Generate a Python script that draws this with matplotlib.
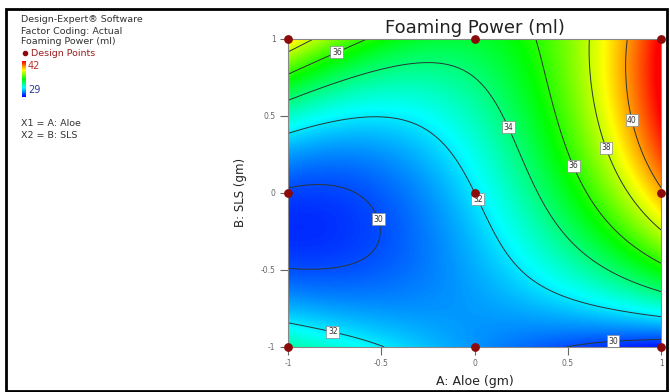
import numpy as np
import matplotlib
matplotlib.use("Agg")
import matplotlib.pyplot as plt
from matplotlib.colors import LinearSegmentedColormap
from matplotlib.patches import Rectangle

# design levels (coded) and measured foaming power at each design point
aloe_levels = [-1.0, 0.0, 1.0]
sls_levels = [-1.0, 0.0, 1.0]
# rows follow sls_levels, columns follow aloe_levels
foaming = [
    [33.4, 30.9, 29.3],
    [29.9, 32.0, 39.8],
    [39.3, 34.9, 42.2],
]
contour_levels = [30, 32, 34, 36, 38, 40]
x_ticks = [-1, -0.5, 0, 0.5, 1]
y_ticks = [-1, -0.5, 0, 0.5, 1]
z_low, z_high = 29, 42


def lagrange(t, nodes, k):
    out = np.ones_like(t)
    for j, n in enumerate(nodes):
        if j != k:
            out *= (t - n) / (nodes[k] - n)
    return out


# full 3x3 factorial model (A, B, AB, A2, B2, A2B, AB2, A2B2)
xs = np.linspace(-1, 1, 301)
ys = np.linspace(-1, 1, 301)
X, Y = np.meshgrid(xs, ys)
Z = np.zeros_like(X)
vals = np.array(foaming)
for i in range(3):
    for j in range(3):
        Z += vals[i, j] * lagrange(Y, sls_levels, i) * lagrange(X, aloe_levels, j)

cmap = LinearSegmentedColormap.from_list(
    "de", [(0.0, "#0000ff"), (0.25, "#00ffff"), (0.5, "#00ff00"),
           (0.75, "#ffff00"), (1.0, "#ff0000")])

fig = plt.figure(figsize=(6.7, 3.92), dpi=100)
ax = fig.add_axes([0.430, 0.115, 0.557, 0.786])

ax.imshow(Z, extent=[-1, 1, -1, 1], origin="lower", cmap=cmap,
          vmin=z_low, vmax=z_high, aspect="auto", interpolation="bilinear")
cs = ax.contour(X, Y, Z, levels=contour_levels, colors="#2a3535",
                linewidths=0.7)
lab_pos = [(-0.72, 0.86), (0.17, 0.42), (0.52, 0.17), (0.70, 0.29),
           (0.84, 0.47), (0.0, -0.05), (-0.54, -0.18), (-0.76, -0.90),
           (0.74, -0.935)]
txts = ax.clabel(cs, fmt="%d", fontsize=5.5, inline=False, manual=lab_pos)
for t in txts:
    t.set_rotation(0)
    t.set_color("#333333")
    t.set_bbox(dict(boxstyle="square,pad=0.2", fc="white", ec="#888888",
                    lw=0.5))

# design points
px, py = np.meshgrid(aloe_levels, sls_levels)
ax.scatter(px.ravel(), py.ravel(), s=28, color="#8b0a0a", zorder=5,
           clip_on=False)

ax.set_xlim(-1, 1)
ax.set_ylim(-1, 1)
ax.set_xticks(x_ticks)
ax.set_xticklabels(["-1", "-0.5", "0", "0.5", "1"])
ax.set_yticks(y_ticks)
ax.set_yticklabels(["-1", "-0.5", "0", "0.5", "1"])
ax.tick_params(direction="out", length=6, width=0.8, colors="#666666",
               labelsize=5.5, pad=3)
for s in ax.spines.values():
    s.set_color("#888888")
    s.set_linewidth(0.8)

ax.set_xlabel("A: Aloe (gm)", fontsize=9, color="#222222", labelpad=5)
ax.set_ylabel("B: SLS (gm)", fontsize=8.5, color="#222222", labelpad=10)
ax.set_title("Foaming Power (ml)", fontsize=13, color="#222222", pad=4)

# side legend block
txt_kw = dict(fontsize=6.8, color="#333333", transform=fig.transFigure,
              va="center", ha="left")
fig.text(21 / 670, 1 - 20 / 392, "Design-Expert\u00ae Software", **txt_kw)
fig.text(21 / 670, 1 - 31 / 392, "Factor Coding: Actual", **txt_kw)
fig.text(21 / 670, 1 - 42 / 392, "Foaming Power (ml)", **txt_kw)
fig.text(31 / 670, 1 - 53 / 392, "Design Points", fontsize=6.8,
         color="#9b2020", transform=fig.transFigure, va="center")
fig.text(28 / 670, 1 - 66 / 392, "42", fontsize=7, color="#c0302a",
         transform=fig.transFigure, va="center")
fig.text(28 / 670, 1 - 90 / 392, "29", fontsize=7, color="#2a3a9a",
         transform=fig.transFigure, va="center")
fig.text(21 / 670, 1 - 124 / 392, "X1 = A: Aloe", **txt_kw)
fig.text(21 / 670, 1 - 135 / 392, "X2 = B: SLS", **txt_kw)

dot_ax = fig.add_axes([0, 0, 1, 1], facecolor="none")
dot_ax.scatter([25], [53], s=9, color="#8b0a0a")
bar = np.linspace(z_high, z_low, 50).reshape(-1, 1)
dot_ax.imshow(bar, extent=[22, 26, 97, 61], cmap=cmap, vmin=z_low,
              vmax=z_high, aspect="auto")
dot_ax.add_patch(Rectangle((5.5, 9), 661, 382, fill=False, ec="black", lw=2))
dot_ax.set_xlim(0, 670)
dot_ax.set_ylim(392, 0)
dot_ax.axis("off")

fig.savefig("out.png", dpi=100)
